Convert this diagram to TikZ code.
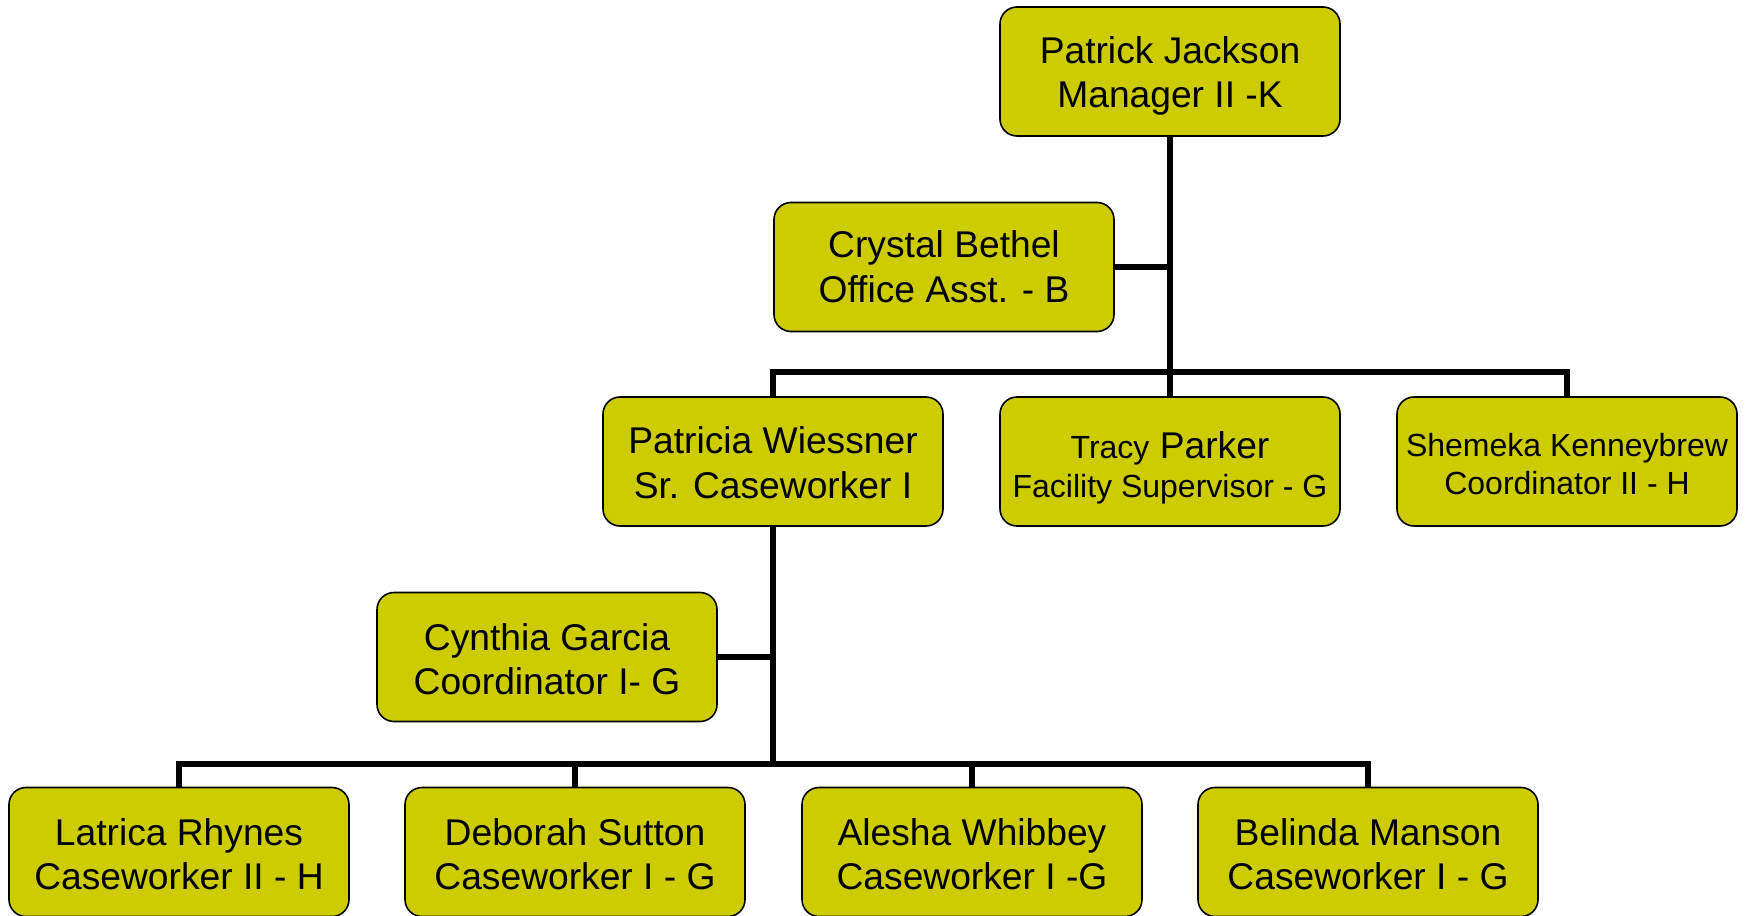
\documentclass[tikz,border=0pt]{standalone}
\usepackage{fontspec}
\setmainfont{Liberation Sans}
\definecolor{boxfill}{RGB}{204,204,0}
\newcommand\toplead[1][18pt]{\rule{0pt}{#1}}
\newcommand\smallf{\fontsize{16}{19}\selectfont}
\begin{document}
\begin{tikzpicture}[x=0.5pt,y=-0.5pt,
  person/.style={draw=black, line width=0.8pt, fill=boxfill, rounded corners=8.5pt,
    minimum width=170pt, minimum height=64.5pt, align=center, inner sep=2pt,
    font=\fontsize{18.6}{22.3}\selectfont},
  small/.style={font=\smallf},
  conn/.style={draw=black, line width=3pt}]
\useasboundingbox (0,0) rectangle (1748,915);
\clip (0,0) rectangle (1748,915);
% nodes
\node[person] (pj) at (1170,71.5) {\toplead Patrick Jackson\\Manager II -K};
\node[person] (cb) at (944,267) {Crystal Bethel\\Office Asst. - B};
\node[person] (pw) at (773,461.5) {\toplead[14.8pt]Patricia Wiessner\\Sr. Caseworker I};
\node[person] (tp) at (1170,461.5) {\toplead[19.5pt]{\smallf Tracy} Parker\\[-2.8pt]{\smallf Facility Supervisor - G}};
\node[person,small] (sk) at (1567,461.5) {\toplead[14pt]Shemeka Kenneybrew\\Coordinator II - H};
\node[person] (cg) at (547,657) {\toplead[15.8pt]Cynthia Garcia\\Coordinator I- G};
\node[person] (lr) at (179,852) {\toplead[15.8pt]Latrica Rhynes\\Caseworker II - H};
\node[person] (ds) at (575,852) {\toplead[15.8pt]Deborah Sutton\\Caseworker I - G};
\node[person] (aw) at (972,852) {\toplead[15.8pt]Alesha Whibbey\\Caseworker I -G};
\node[person] (bm) at (1368,852) {\toplead[15.8pt]Belinda Manson\\Caseworker I - G};
% bus coordinates
\coordinate (bus1) at (1170,372);
\coordinate (bus2) at (773,764);
% connectors
\draw[conn] (pj.south) -- (tp.north);
\draw[conn] (cb.east) -- (cb.east -| pj.south);
\draw[conn] (pw.north) -- (pw.north |- bus1) -- (sk.north |- bus1) -- (sk.north);
\draw[conn] (pw.south) -- (pw.south |- bus2);
\draw[conn] (cg.east) -- (cg.east -| pw.south);
\draw[conn] (lr.north) -- (lr.north |- bus2) -- (bm.north |- bus2) -- (bm.north);
\draw[conn] (ds.north) -- (ds.north |- bus2);
\draw[conn] (aw.north) -- (aw.north |- bus2);
\end{tikzpicture}
\end{document}
